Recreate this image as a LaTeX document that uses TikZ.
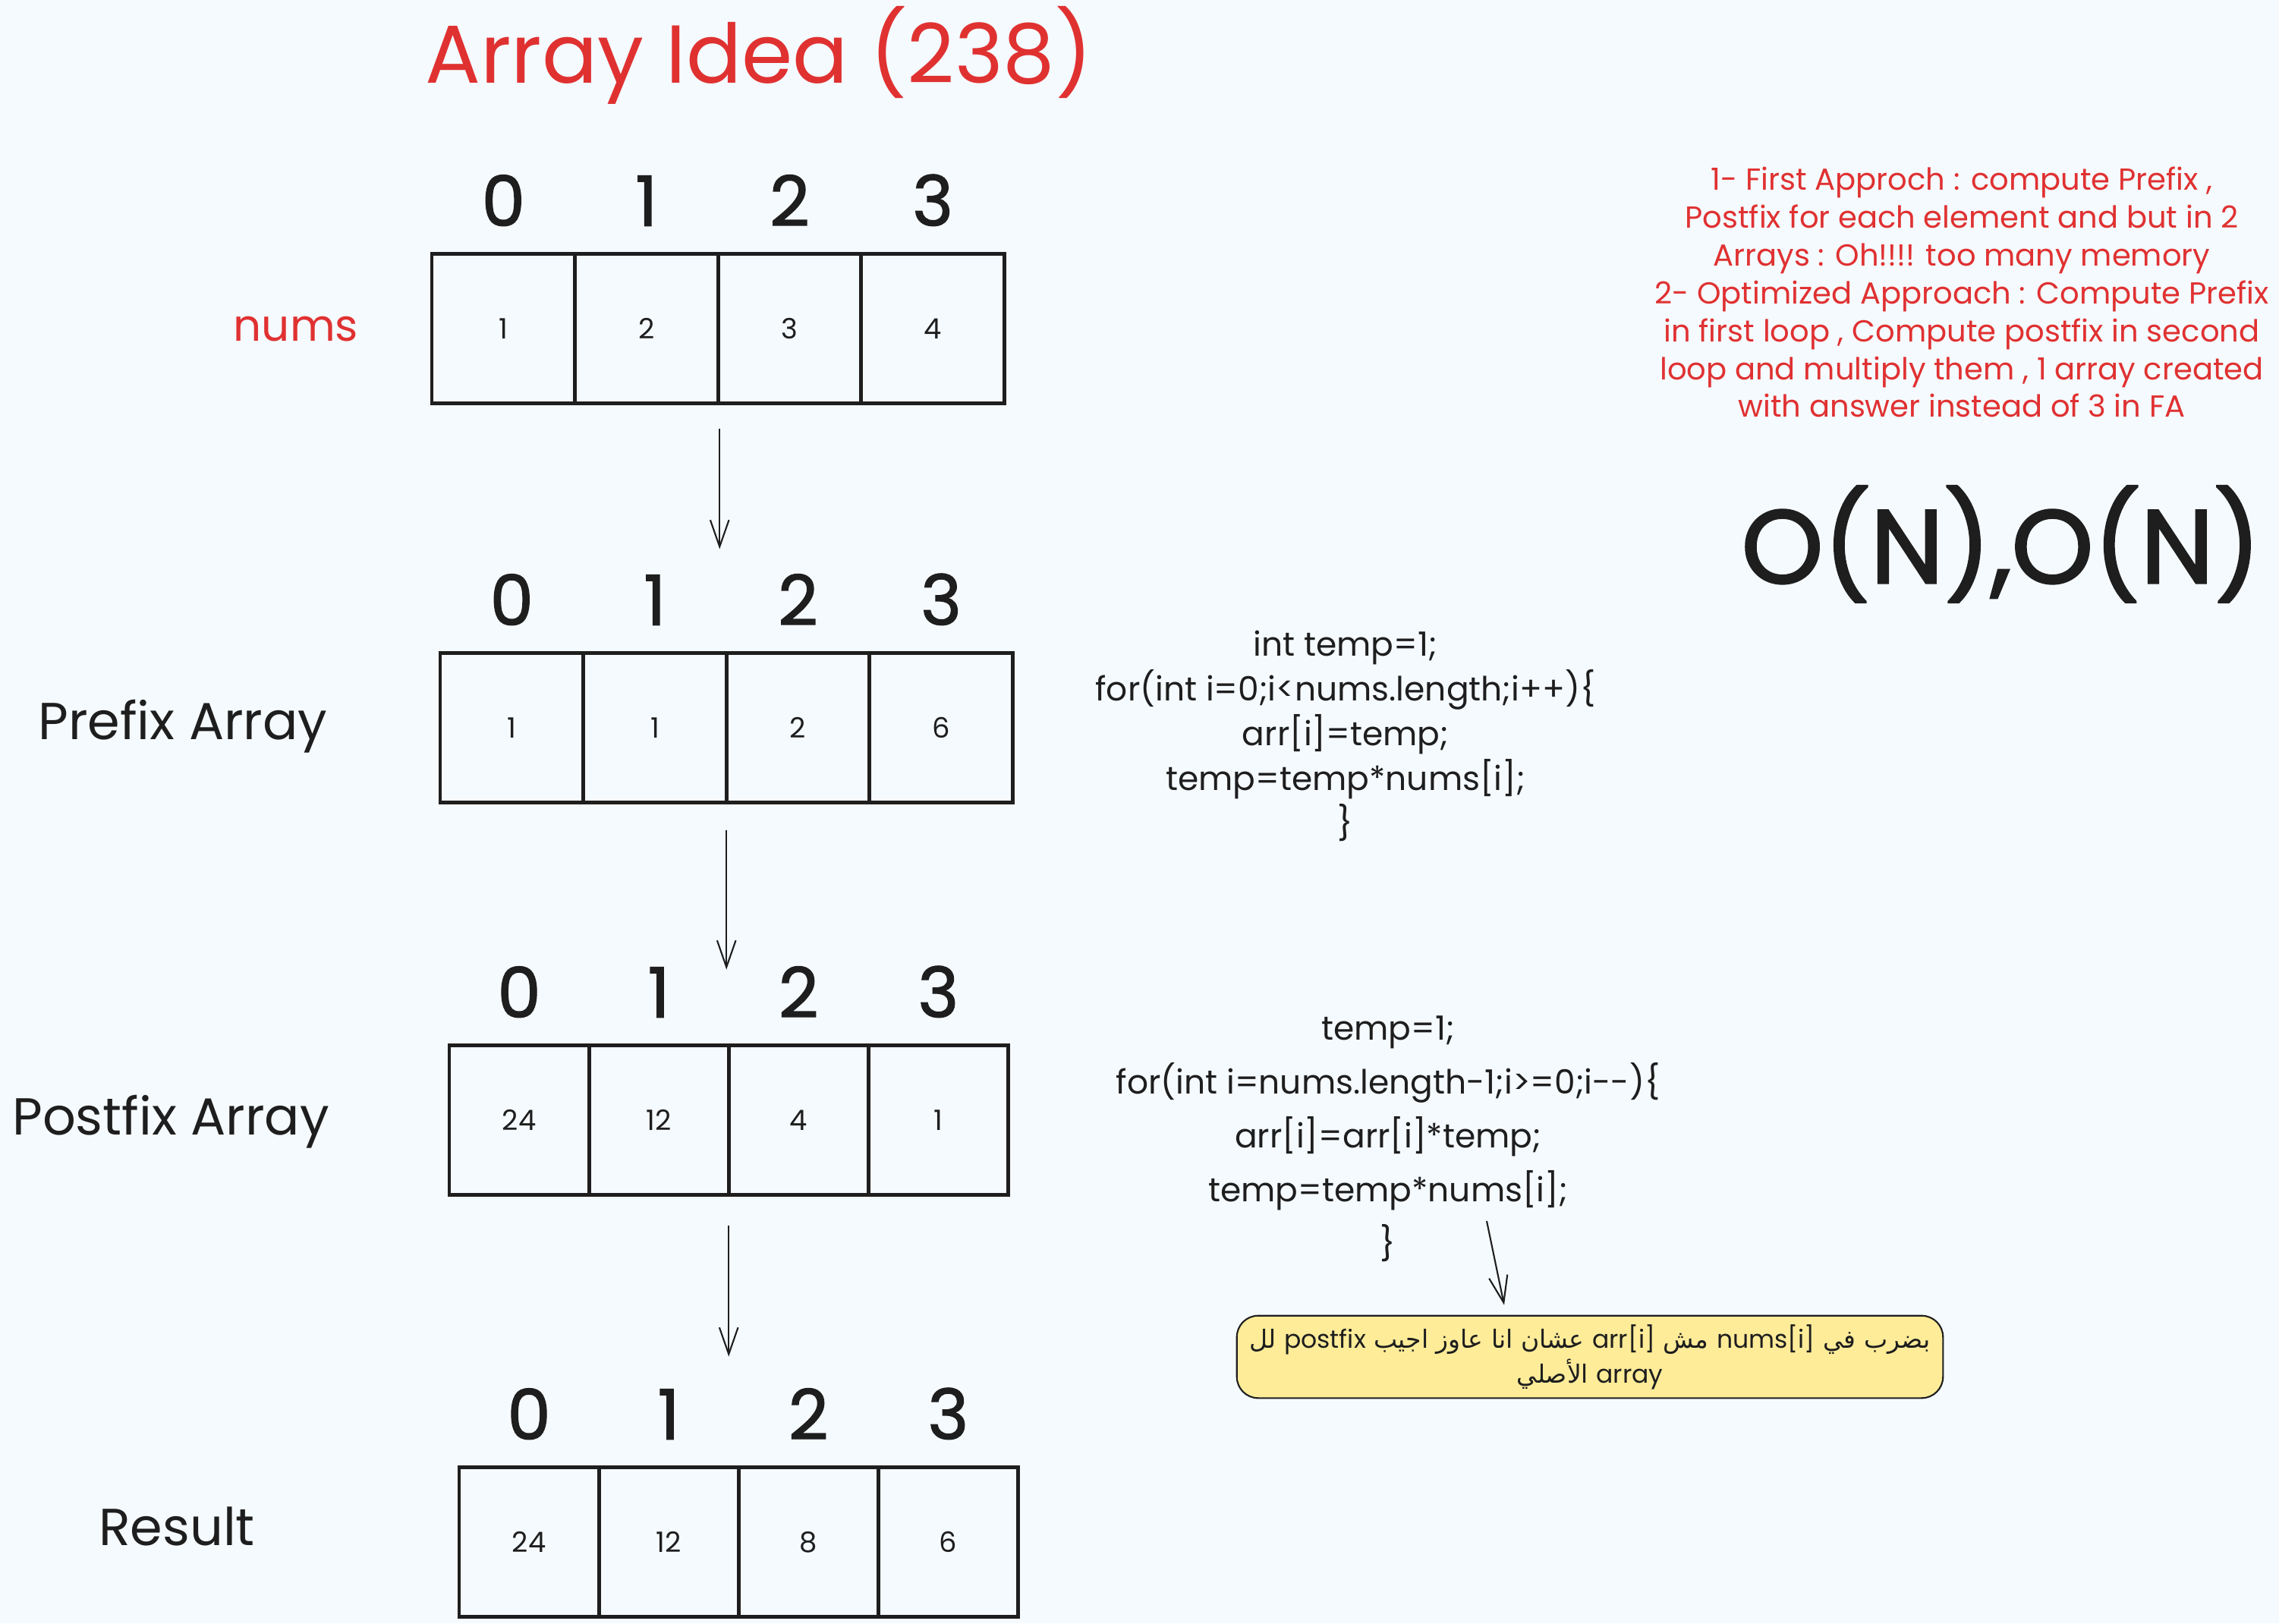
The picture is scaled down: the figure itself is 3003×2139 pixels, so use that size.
\documentclass[tikz,border=0pt]{standalone}
\usepackage{fontspec}
\setmainfont{Poppins}
\newfontfamily\arabicfont[Script=Arabic]{DejaVu Sans}
\TeXXeTstate=1
\usetikzlibrary{positioning,arrows.meta}
\definecolor{sketchInk}{HTML}{1E1E1E}
\definecolor{sketchRed}{HTML}{E03131}
\definecolor{sketchPaper}{HTML}{F5FAFF}
\definecolor{sketchNote}{HTML}{FFEC99}
\tikzset{
  cell/.style={draw=sketchInk, line width=1.4pt, outer sep=0pt, inner sep=0pt,
    minimum width=#1, minimum height=1.97cm, text=sketchInk,
    font=\fontsize{10.5}{12}\selectfont},
  cell/.default=1.885cm,
  idx/.style={inner sep=0pt, label distance=0.36cm, text=sketchInk,
    font=\fontsize{26}{30}\selectfont\addfontfeature{FakeBold=1.5}},
  side/.style={font=\fontsize{19.5}{23}\selectfont, text=sketchInk},
  code/.style={align=center, text=sketchInk, font=\fontsize{12.5}{16.8}\selectfont},
  flow/.style={-{Straight Barb[length=10pt, width=7pt]}, line width=0.6pt, sketchInk},
  memo/.style={draw=sketchInk, fill=sketchNote, rounded corners=8pt, line width=0.6pt,
    minimum width=9.3cm, minimum height=1.02cm, align=center, text=sketchInk,
    font=\arabicfont\fontsize{9.4}{13}\selectfont},
}

\begin{document}
\begin{tikzpicture}[x=0.01cm, y=-0.01cm]
  \fill[sketchPaper] (0,0) rectangle (3003,2139);
  \useasboundingbox (0,0) rectangle (3003,2139);
  \node[text=sketchRed, font=\fontsize{30.8}{36}\selectfont] (title) at (1000,73) {Array Idea (238)};
  % input array
  \node[side, text=sketchRed, font=\fontsize{16.5}{20}\selectfont] (numsLbl) at (390,434) {nums};
  \node[cell, anchor=west, label={[idx]above:0}] (n0) at (569,433) {1};
  \node[cell, right=0pt of n0, label={[idx]above:1}] (n1) {2};
  \node[cell, right=0pt of n1, label={[idx]above:2}] (n2) {3};
  \node[cell, right=0pt of n2, label={[idx]above:3}] (n3) {4};
  % prefix pass
  \node[side] (preLbl) at (241,957) {Prefix Array};
  \node[cell, anchor=west, label={[idx]above:0}] (p0) at (580,959) {1};
  \node[cell, right=0pt of p0, label={[idx]above:1}] (p1) {1};
  \node[cell, right=0pt of p1, label={[idx]above:2}] (p2) {2};
  \node[cell, right=0pt of p2, label={[idx]above:3}] (p3) {6};
  % postfix pass
  \node[side] (postLbl) at (225,1478) {Postfix Array};
  \node[cell=1.84cm, anchor=west, label={[idx]above:0}] (s0) at (592,1476) {24};
  \node[cell=1.84cm, right=0pt of s0, label={[idx]above:1}] (s1) {12};
  \node[cell=1.84cm, right=0pt of s1, label={[idx]above:2}] (s2) {4};
  \node[cell=1.84cm, right=0pt of s2, label={[idx]above:3}] (s3) {1};
  % answer
  \node[side] (resLbl) at (233,2011) {Result};
  \node[cell=1.84cm, anchor=west, label={[idx]above:0}] (r0) at (605,2032) {24};
  \node[cell=1.84cm, right=0pt of r0, label={[idx]above:1}] (r1) {12};
  \node[cell=1.84cm, right=0pt of r1, label={[idx]above:2}] (r2) {8};
  \node[cell=1.84cm, right=0pt of r2, label={[idx]above:3}] (r3) {6};
  \draw[flow] ([shift={(2,33)}]n1.south east) -- ++(0,159);
  \draw[flow] ([yshift=-0.36cm]p1.south east) -- ++(0,184);
  \draw[flow] ([yshift=-0.4cm]s1.south east) -- ++(0,173);
  % the two loops
  \node[code] (code1) at (1773,970) {int temp=1;\\
    for(int i=0;i<nums.length;i++)\{\\
    arr[i]=temp;\\
    temp=temp*nums[i];\\
    \}};
  \node[code, font=\fontsize{12.5}{20.2}\selectfont] (code2) at (1829,1501) {temp=1;\\
    for(int i=nums.length-1;i>=0;i-{}-)\{\\
    arr[i]=arr[i]*temp;\\
    temp=temp*nums[i];\\
    \}};
  \node[memo] (memo) at (2095,1788) {\beginR بضرب في \beginL{\rmfamily nums[i]}\endL{} مش \beginL{\rmfamily arr[i]}\endL{} عشان انا عاوز اجيب \beginL{\rmfamily postfix}\endL{} لل\endR\\
    \beginR\beginL{\rmfamily array}\endL{} الأصلي\endR};
  \coordinate (hint) at (1959,1609);
  \draw[flow] (hint) -- ([shift={(-113,-13)}]memo.north);
  % notes on the approach
  \node[align=center, text=sketchRed, font=\fontsize{11.4}{14.2}\selectfont] (approach) at (2585,385) {1- First Approch : compute Prefix ,\\
    Postfix for each element and but in 2\\
    Arrays : Oh!!!! too many memory\\
    2- Optimized Approach : Compute Prefix\\
    in first loop , Compute postfix in second\\
    loop and multiply them , 1 array created\\
    with answer instead of 3 in FA};
  \node[text=sketchInk, font=\fontsize{39}{46}\selectfont\addfontfeature{FakeBold=2}] (cost) at (2637,717) {O(N),O(N)};
\end{tikzpicture}
\end{document}
